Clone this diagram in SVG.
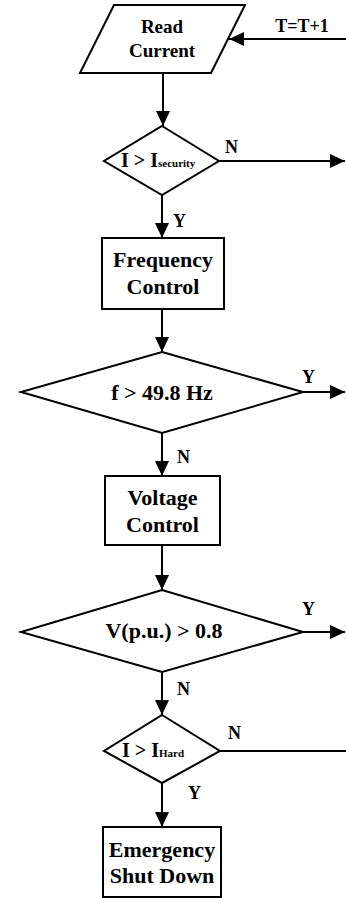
<svg xmlns="http://www.w3.org/2000/svg" width="346" height="898" viewBox="0 0 346 898">
<style>
.s{fill:#fff;stroke:#000;stroke-width:2}
.t{font-family:"Liberation Serif","Times New Roman",serif;font-weight:bold;fill:#000}
.c{text-anchor:middle}
.l{stroke:#000;stroke-width:2;fill:none}
.lb{font-size:18px}
</style>
<defs>
<marker id="ah" markerUnits="userSpaceOnUse" markerWidth="16" markerHeight="14" viewBox="0 0 16 14" refX="15" refY="7" orient="auto">
<path d="M0,0 L15,7 L0,14 Z" fill="#000"/>
</marker>
</defs>
<rect width="346" height="898" fill="#fff"/>
<g id="connectors">
<line class="l" x1="346" y1="39" x2="229" y2="39" marker-end="url(#ah)"/>
<line class="l" x1="163" y1="73" x2="163" y2="126" marker-end="url(#ah)"/>
<line class="l" x1="219" y1="161" x2="345" y2="161" marker-end="url(#ah)"/>
<line class="l" x1="162" y1="195" x2="162" y2="238" marker-end="url(#ah)"/>
<line class="l" x1="162" y1="309" x2="162" y2="352" marker-end="url(#ah)"/>
<line class="l" x1="303" y1="392" x2="345" y2="392" marker-end="url(#ah)"/>
<line class="l" x1="162" y1="433" x2="162" y2="476" marker-end="url(#ah)"/>
<line class="l" x1="162" y1="545" x2="162" y2="590" marker-end="url(#ah)"/>
<line class="l" x1="303" y1="632" x2="345" y2="632" marker-end="url(#ah)"/>
<line class="l" x1="162" y1="672" x2="162" y2="715" marker-end="url(#ah)"/>
<line class="l" x1="220" y1="751" x2="346" y2="751"/>
<line class="l" x1="162" y1="783" x2="162" y2="827" marker-end="url(#ah)"/>
<text class="t c" x="302" y="32" font-size="18">T=T+1</text>
<text class="t lb" x="225" y="153">N</text>
<text class="t lb" x="173" y="227">Y</text>
<text class="t lb" x="302" y="383">Y</text>
<text class="t lb" x="177" y="463">N</text>
<text class="t lb" x="302" y="615">Y</text>
<text class="t lb" x="177" y="695">N</text>
<text class="t lb" x="228" y="739">N</text>
<text class="t lb" x="188" y="799">Y</text>
</g>
<g id="read-current">
<polygon class="s" points="114,5 245,5 211,73 80,73"/>
<text class="t c" x="162" y="33" font-size="19">Read</text>
<text class="t c" x="162" y="57" font-size="19">Current</text>
</g>
<g id="check-security">
<polygon class="s" points="162,126 219,161 162,195 104,161"/>
<text class="t" x="121" y="167" font-size="20">I &gt; I<tspan font-size="11">security</tspan></text>
</g>
<g id="frequency-control">
<rect class="s" x="102" y="238" width="122" height="71"/>
<text class="t c" x="163" y="267" font-size="22">Frequency</text>
<text class="t c" x="163" y="294" font-size="22">Control</text>
</g>
<g id="check-frequency">
<polygon class="s" points="162,352 303,392 162,433 21,392"/>
<text class="t c" x="162" y="400" font-size="22">f &gt; 49.8 Hz</text>
</g>
<g id="voltage-control">
<rect class="s" x="105" y="476" width="115" height="69"/>
<text class="t c" x="162.5" y="505" font-size="22">Voltage</text>
<text class="t c" x="162.5" y="532" font-size="22">Control</text>
</g>
<g id="check-voltage">
<polygon class="s" points="162,590 303,632 162,672 21,632"/>
<text class="t c" x="164" y="638" font-size="22">V(p.u.) &gt; 0.8</text>
</g>
<g id="check-hard">
<polygon class="s" points="162,715 220,751 162,783 104,751"/>
<text class="t" x="122" y="757" font-size="20">I &gt; I<tspan font-size="11">Hard</tspan></text>
</g>
<g id="emergency-shutdown">
<rect class="s" x="103" y="827" width="118" height="70"/>
<text class="t c" x="162" y="857" font-size="22">Emergency</text>
<text class="t c" x="162" y="883" font-size="22">Shut Down</text>
</g>
</svg>
